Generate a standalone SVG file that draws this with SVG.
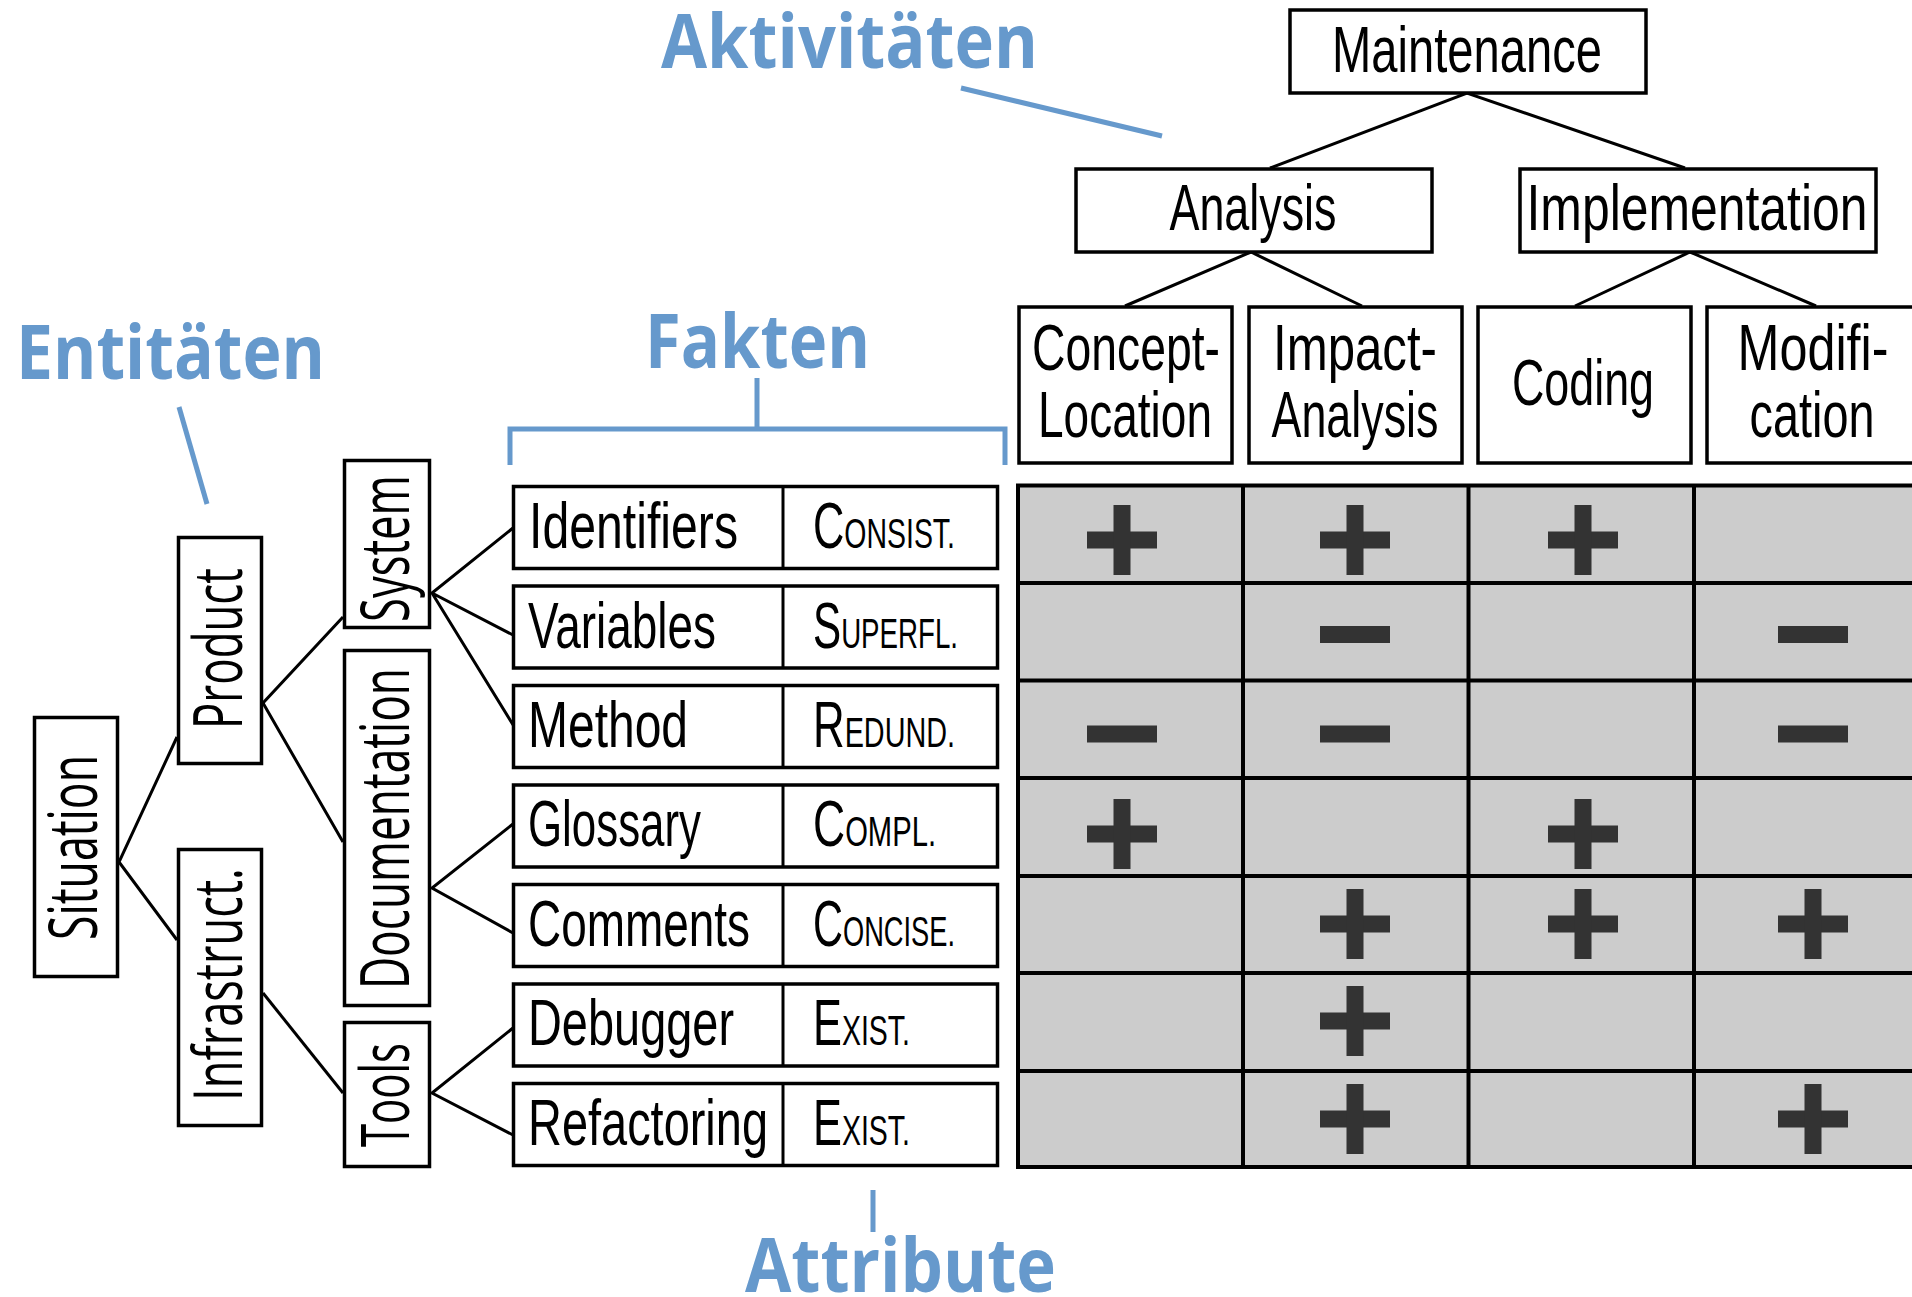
<svg xmlns="http://www.w3.org/2000/svg" xmlns:xlink="http://www.w3.org/1999/xlink" width="1912" height="1297" viewBox="0 0 1912 1297">
  <style>
    .box { fill: #ffffff; stroke: #000000; stroke-width: 3.5; }
    .lbl { font-family: "Liberation Sans Narrow", "Liberation Sans", Arial, sans-serif; font-size: 64px; fill: #000000; }
    .sc { font-size: 42px; }
    .vlbl { font-family: "Open Sans", "DejaVu Sans", sans-serif; font-size: 67px; fill: #000000; }
    .cat { font-family: "Open Sans", "DejaVu Sans", sans-serif; font-weight: 700; font-size: 75px; fill: #6699cc; }
    .conn { stroke: #000000; stroke-width: 3; fill: none; }
    .pointer { stroke: #6699cc; stroke-width: 5; fill: none; }
    .grid { stroke: #000000; stroke-width: 4; fill: none; }
    .sign { fill: #333333; }
  </style>
  <defs>
    <g id="plus">
      <rect class="sign" x="-35" y="-8.5" width="70" height="17"/>
      <rect class="sign" x="-8.5" y="-35" width="17" height="70"/>
    </g>
    <g id="minus">
      <rect class="sign" x="-35" y="-8.5" width="70" height="17"/>
    </g>
  </defs>

  <!-- category captions and their pointers -->
  <g id="captions">
    <text class="cat" x="661" y="68" textLength="377" lengthAdjust="spacingAndGlyphs">Aktivitäten</text>
    <text class="cat" x="16" y="379" textLength="309" lengthAdjust="spacingAndGlyphs">Entitäten</text>
    <text class="cat" x="645" y="368" textLength="225" lengthAdjust="spacingAndGlyphs">Fakten</text>
    <text class="cat" x="745" y="1292" textLength="311" lengthAdjust="spacingAndGlyphs">Attribute</text>
    <line class="pointer" x1="961" y1="88" x2="1162" y2="136"/>
    <line class="pointer" x1="179" y1="407" x2="207" y2="504"/>
    <path class="pointer" d="M757,378 V429 M510,465 V429 H1005 V465"/>
    <line class="pointer" x1="873" y1="1190" x2="873" y2="1232"/>
  </g>

  <!-- connectors -->
  <g id="connectors">
    <!-- activity tree -->
    <path class="conn" d="M1270,168 L1467,93 L1685,168"/>
    <path class="conn" d="M1125,306 L1251,252 L1362,306"/>
    <path class="conn" d="M1575,306 L1690,252 L1816,306"/>
    <!-- entity tree -->
    <path class="conn" d="M177,737 L119,862 L177,940"/>
    <path class="conn" d="M343,617 L263,703 L343,842"/>
    <path class="conn" d="M263,993 L343,1093"/>
    <path class="conn" d="M513,528 L432,593 L513,635 M432,593 L515,728"/>
    <path class="conn" d="M513,824 L432,888 L513,933"/>
    <path class="conn" d="M513,1028 L432,1093 L513,1135"/>
  </g>

  <!-- activities -->
  <g id="maintenance">
    <rect class="box" x="1290" y="10" width="356" height="83"/>
    <text class="lbl" x="1467" y="72" text-anchor="middle" textLength="270" lengthAdjust="spacingAndGlyphs">Maintenance</text>
  </g>
  <g id="analysis">
    <rect class="box" x="1076" y="169" width="356" height="83"/>
    <text class="lbl" x="1253" y="230" text-anchor="middle" textLength="167" lengthAdjust="spacingAndGlyphs">Analysis</text>
  </g>
  <g id="implementation">
    <rect class="box" x="1520" y="169" width="356" height="83"/>
    <text class="lbl" x="1697" y="230" text-anchor="middle" textLength="341" lengthAdjust="spacingAndGlyphs">Implementation</text>
  </g>
  <g id="concept-location">
    <rect class="box" x="1019" y="307" width="213" height="156"/>
    <text class="lbl" x="1126" y="370" text-anchor="middle" textLength="188" lengthAdjust="spacingAndGlyphs">Concept-</text>
    <text class="lbl" x="1125" y="437" text-anchor="middle" textLength="174" lengthAdjust="spacingAndGlyphs">Location</text>
  </g>
  <g id="impact-analysis">
    <rect class="box" x="1249" y="307" width="213" height="156"/>
    <text class="lbl" x="1355" y="370" text-anchor="middle" textLength="164" lengthAdjust="spacingAndGlyphs">Impact-</text>
    <text class="lbl" x="1355" y="437" text-anchor="middle" textLength="167" lengthAdjust="spacingAndGlyphs">Analysis</text>
  </g>
  <g id="coding">
    <rect class="box" x="1478" y="307" width="213" height="156"/>
    <text class="lbl" x="1583" y="405" text-anchor="middle" textLength="142" lengthAdjust="spacingAndGlyphs">Coding</text>
  </g>
  <g id="modification">
    <rect class="box" x="1707" y="307" width="213" height="156"/>
    <text class="lbl" x="1813" y="370" text-anchor="middle" textLength="151" lengthAdjust="spacingAndGlyphs">Modifi-</text>
    <text class="lbl" x="1812" y="437" text-anchor="middle" textLength="125" lengthAdjust="spacingAndGlyphs">cation</text>
  </g>

  <!-- entities (vertical labels) -->
  <g id="situation">
    <rect class="box" x="34.5" y="717.5" width="83" height="259"/>
    <text class="vlbl" transform="translate(97,847.5) rotate(-90)" text-anchor="middle" textLength="185" lengthAdjust="spacingAndGlyphs">Situation</text>
  </g>
  <g id="product">
    <rect class="box" x="178.5" y="537.5" width="83" height="226"/>
    <text class="vlbl" transform="translate(242,648.5) rotate(-90)" text-anchor="middle" textLength="161" lengthAdjust="spacingAndGlyphs">Product</text>
  </g>
  <g id="infrastructure">
    <rect class="box" x="178.5" y="849.5" width="83" height="276"/>
    <text class="vlbl" transform="translate(242,984.5) rotate(-90)" text-anchor="middle" textLength="233" lengthAdjust="spacingAndGlyphs">Infrastruct.</text>
  </g>
  <g id="system">
    <rect class="box" x="344.5" y="460.5" width="85" height="167"/>
    <text class="vlbl" transform="translate(409,548.5) rotate(-90)" text-anchor="middle" textLength="147" lengthAdjust="spacingAndGlyphs">System</text>
  </g>
  <g id="documentation">
    <rect class="box" x="344.5" y="650.5" width="85" height="355"/>
    <text class="vlbl" transform="translate(409,828.5) rotate(-90)" text-anchor="middle" textLength="321" lengthAdjust="spacingAndGlyphs">Documentation</text>
  </g>
  <g id="tools">
    <rect class="box" x="344.5" y="1022.5" width="85" height="144"/>
    <text class="vlbl" transform="translate(409,1095) rotate(-90)" text-anchor="middle" textLength="104" lengthAdjust="spacingAndGlyphs">Tools</text>
  </g>

  <!-- facts with attributes -->
  <g id="fact-identifiers">
    <rect class="box" x="513.5" y="486.5" width="484" height="82"/>
    <line class="conn" x1="783" y1="486.5" x2="783" y2="568.5"/>
    <text class="lbl" x="529" y="548" textLength="209" lengthAdjust="spacingAndGlyphs">Identifiers</text>
    <text class="lbl" x="813" y="548" textLength="142" lengthAdjust="spacingAndGlyphs">C<tspan class="sc">ONSIST.</tspan></text>
  </g>
  <g id="fact-variables">
    <rect class="box" x="513.5" y="586" width="484" height="82"/>
    <line class="conn" x1="783" y1="586" x2="783" y2="668"/>
    <text class="lbl" x="528" y="648" textLength="188" lengthAdjust="spacingAndGlyphs">Variables</text>
    <text class="lbl" x="813" y="648" textLength="145" lengthAdjust="spacingAndGlyphs">S<tspan class="sc">UPERFL.</tspan></text>
  </g>
  <g id="fact-method">
    <rect class="box" x="513.5" y="685.5" width="484" height="82"/>
    <line class="conn" x1="783" y1="685.5" x2="783" y2="767.5"/>
    <text class="lbl" x="528" y="747" textLength="160" lengthAdjust="spacingAndGlyphs">Method</text>
    <text class="lbl" x="813" y="747" textLength="142" lengthAdjust="spacingAndGlyphs">R<tspan class="sc">EDUND.</tspan></text>
  </g>
  <g id="fact-glossary">
    <rect class="box" x="513.5" y="785" width="484" height="82"/>
    <line class="conn" x1="783" y1="785" x2="783" y2="867"/>
    <text class="lbl" x="528" y="846" textLength="173" lengthAdjust="spacingAndGlyphs">Glossary</text>
    <text class="lbl" x="813" y="846" textLength="123" lengthAdjust="spacingAndGlyphs">C<tspan class="sc">OMPL.</tspan></text>
  </g>
  <g id="fact-comments">
    <rect class="box" x="513.5" y="884.5" width="484" height="82"/>
    <line class="conn" x1="783" y1="884.5" x2="783" y2="966.5"/>
    <text class="lbl" x="528" y="946" textLength="222" lengthAdjust="spacingAndGlyphs">Comments</text>
    <text class="lbl" x="813" y="946" textLength="142" lengthAdjust="spacingAndGlyphs">C<tspan class="sc">ONCISE.</tspan></text>
  </g>
  <g id="fact-debugger">
    <rect class="box" x="513.5" y="984" width="484" height="82"/>
    <line class="conn" x1="783" y1="984" x2="783" y2="1066"/>
    <text class="lbl" x="528" y="1045" textLength="206" lengthAdjust="spacingAndGlyphs">Debugger</text>
    <text class="lbl" x="813" y="1045" textLength="97" lengthAdjust="spacingAndGlyphs">E<tspan class="sc">XIST.</tspan></text>
  </g>
  <g id="fact-refactoring">
    <rect class="box" x="513.5" y="1083.5" width="484" height="82"/>
    <line class="conn" x1="783" y1="1083.5" x2="783" y2="1165.5"/>
    <text class="lbl" x="528" y="1145" textLength="240" lengthAdjust="spacingAndGlyphs">Refactoring</text>
    <text class="lbl" x="813" y="1145" textLength="97" lengthAdjust="spacingAndGlyphs">E<tspan class="sc">XIST.</tspan></text>
  </g>

  <!-- impact matrix: facts (rows) against activities (columns) -->
  <g id="matrix">
    <rect x="1018" y="485.5" width="910" height="681.5" fill="#cccccc" stroke="#000000" stroke-width="4"/>
    <path class="grid" d="M1243,485.5 V1167 M1468.5,485.5 V1167 M1694,485.5 V1167 M1018,583 H1928 M1018,680.5 H1928 M1018,778 H1928 M1018,876 H1928 M1018,973 H1928 M1018,1071 H1928"/>
    <use xlink:href="#plus" x="1122" y="540"/>
    <use xlink:href="#plus" x="1355" y="540"/>
    <use xlink:href="#plus" x="1583" y="540"/>
    <use xlink:href="#minus" x="1355" y="634.5"/>
    <use xlink:href="#minus" x="1813" y="634.5"/>
    <use xlink:href="#minus" x="1122" y="734"/>
    <use xlink:href="#minus" x="1355" y="734"/>
    <use xlink:href="#minus" x="1813" y="734"/>
    <use xlink:href="#plus" x="1122" y="834"/>
    <use xlink:href="#plus" x="1583" y="834"/>
    <use xlink:href="#plus" x="1355" y="924"/>
    <use xlink:href="#plus" x="1583" y="924"/>
    <use xlink:href="#plus" x="1813" y="924"/>
    <use xlink:href="#plus" x="1355" y="1021"/>
    <use xlink:href="#plus" x="1355" y="1119"/>
    <use xlink:href="#plus" x="1813" y="1119"/>
  </g>
</svg>
